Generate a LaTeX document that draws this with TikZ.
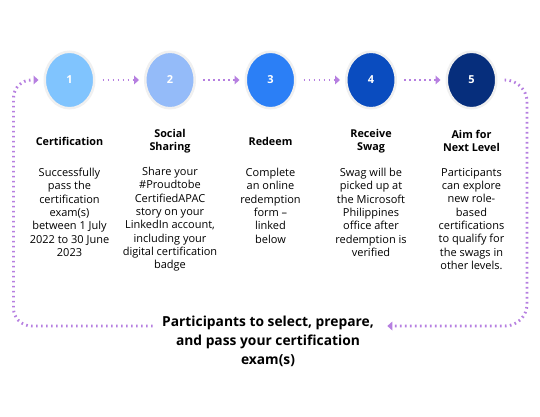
\documentclass[tikz,border=0pt]{standalone}
\usepackage{fontspec}
\setmainfont{Open Sans}
\usetikzlibrary{arrows.meta, positioning, shapes.geometric}

\definecolor{stepA}{RGB}{128,196,254}
\definecolor{stepB}{RGB}{148,187,249}
\definecolor{stepC}{RGB}{43,127,246}
\definecolor{stepD}{RGB}{10,76,191}
\definecolor{stepE}{RGB}{6,46,124}
\definecolor{flowpurple}{RGB}{182,127,224}

\begin{document}
\begin{tikzpicture}[x=1pt, y=-1pt,
        node distance = 6mm and 48.5pt,
      stepdot/.style = {ellipse, fill=#1, draw=black!6, line width=2.5pt,
                        minimum width=49.5pt, minimum height=56.5pt, inner sep=0pt,
                        text=white, font=\fontsize{11}{13}\selectfont\bfseries},
         head/.style = {align=center, font=\fontsize{10.8}{13.5}\selectfont\bfseries},
         desc/.style = {align=center, anchor=north, inner sep=0pt,
                        font=\fontsize{11}{13.3}\selectfont},
         flow/.style = {draw=flowpurple, line width=2.9pt,
                        dash pattern=on 1.6pt off 3.4pt,
                        -{Triangle[length=5pt, width=9pt, line width=0pt]}}
                        ]
\useasboundingbox (0,0) rectangle (540,417);
% Draw the step circles
    \node[stepdot=stepA] (S-1) at (69.5,80) {1};
\foreach \i/\c [count=\j from 1] in {2/stepB, 3/stepC, 4/stepD, 5/stepE}
    \node[stepdot=\c, right=of S-\j] (S-\i) {\i};
% Headings under the circles
\foreach \i/\t in {1/Certification, 2/{Social\\Sharing}, 3/Redeem,
                   4/{Receive\\Swag}, 5/{Aim for\\Next Level}}
    \node[head] (H-\i) at ([yshift=-61pt]S-\i.center) {\t};
% Descriptions
    \node[desc] (D-1) at ([yshift=-88pt]S-1.center)
        {Successfully\\pass the\\certification\\exam(s)\\between 1 July\\2022 to 30 June\\2023};
    \node[desc] (D-2) at ([yshift=-87pt]S-2.center)
        {Share your\\\#Proudtobe\\CertifiedAPAC\\story on your\\LinkedIn account,\\including your\\digital certification\\badge};
    \node[desc] (D-3) at ([yshift=-88pt]S-3.center)
        {Complete\\an online\\redemption\\form --\\linked\\below};
    \node[desc] (D-4) at ([yshift=-88pt]S-4.center)
        {Swag will be\\picked up at\\the Microsoft\\Philippines\\office after\\redemption is\\verified};
    \node[desc] (D-5) at ([yshift=-88pt]S-5.center)
        {Participants\\can explore\\new role-\\based\\certifications\\to qualify for\\the swags in\\other levels.};
% Bottom message
    \node[align=center, font=\fontsize{13.8}{19}\selectfont\bfseries] (goal) at (268,341)
        {Participants to select, prepare,\\and pass your certification\\exam(s)};
    \coordinate (R-corner) at (527,326);
    \coordinate (L-corner) at (13.5,326);
% Connect the circles
\foreach \i [count=\j from 2] in {1,...,4}
    \draw[flow, shorten <=7pt, shorten >=5pt] (S-\i) -- (S-\j);
% Loop back round
    \draw[flow, rounded corners=22pt, shorten <=7pt, shorten >=10pt]
        (S-5.east) -| (R-corner) -- (goal.east |- R-corner);
    \draw[flow, rounded corners=18pt, shorten <=6pt, shorten >=5pt]
        (goal.west |- L-corner) -- (L-corner) |- (S-1.west);
\end{tikzpicture}
\end{document}
